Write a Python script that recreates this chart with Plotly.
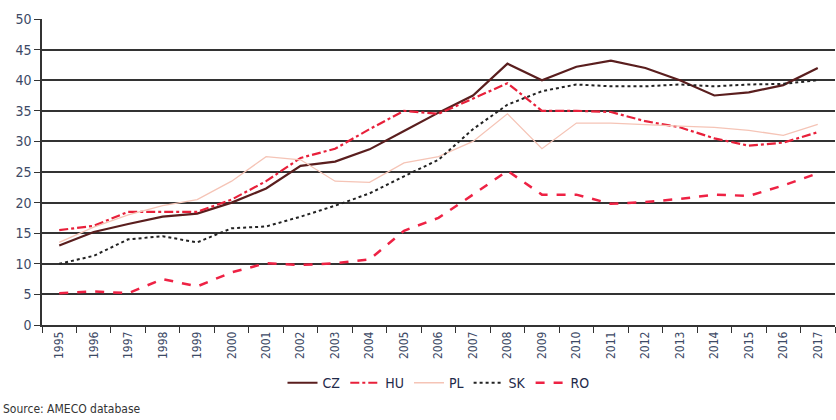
import plotly.graph_objects as go

years = [str(y) for y in range(1995, 2018)]
cz = [13.0, 15.2, 16.5, 17.7, 18.2, 20.0, 22.3, 26.0, 26.7, 28.7, 31.7, 34.7, 37.5, 42.7, 40.0, 42.2, 43.2, 42.0, 40.0, 37.5, 38.0, 39.2, 42.0]
hu = [15.5, 16.2, 18.5, 18.5, 18.5, 20.5, 23.5, 27.3, 28.8, 32.0, 35.0, 34.5, 37.0, 39.5, 35.0, 35.0, 34.8, 33.3, 32.3, 30.5, 29.3, 29.8, 31.5]
pl = [13.5, 16.0, 18.0, 19.5, 20.5, 23.5, 27.5, 27.0, 23.5, 23.3, 26.5, 27.5, 30.0, 34.5, 28.8, 33.0, 33.0, 32.7, 32.5, 32.3, 31.8, 31.0, 32.8]
sk = [10.0, 11.3, 14.0, 14.5, 13.5, 15.8, 16.1, 17.7, 19.5, 21.5, 24.3, 27.0, 32.0, 36.0, 38.2, 39.3, 39.0, 39.0, 39.3, 39.0, 39.3, 39.4, 40.0]
ro = [5.2, 5.5, 5.2, 7.5, 6.3, 8.6, 10.1, 9.8, 10.1, 10.7, 15.4, 17.5, 21.3, 25.2, 21.3, 21.3, 19.8, 20.1, 20.6, 21.3, 21.1, 22.8, 24.8]

series = [
    ("CZ", cz, "#5a1e1e", 2.2, "solid"),
    ("HU", hu, "#e8203a", 2.2, "dashdot"),
    ("PL", pl, "#f5c4b6", 1.3, "solid"),
    ("SK", sk, "#222222", 2.0, "dot"),
    ("RO", ro, "#ee2244", 2.5, "dash"),
]

font_family = "Liberation Sans Narrow, DejaVu Sans Condensed, Arial Narrow, sans-serif"

fig = go.Figure()
for name, vals, color, w, dash in series:
    fig.add_trace(go.Scatter(x=years, y=vals, name=name, mode="lines",
                             line=dict(color=color, width=w, dash=dash)))

fig.update_layout(
    width=836, height=420,
    margin=dict(l=42, r=1, t=19, b=95, autoexpand=False),
    paper_bgcolor="white", plot_bgcolor="white",
    font=dict(family=font_family, color="#3d4a66", size=13),
    showlegend=True,
    legend=dict(orientation="h", x=0.5, xanchor="center", y=-0.19, yanchor="middle",
                font=dict(size=14, color="#1f2a4a", family=font_family),
                itemwidth=30, tracegroupgap=0, bgcolor="rgba(0,0,0,0)"),
    annotations=[dict(text="Source: AMECO database", xref="paper", yref="paper",
                      x=-0.052, y=-0.245, xanchor="left", yanchor="top", showarrow=False,
                      font=dict(size=12, color="#333333", family=font_family))],
)
fig.update_xaxes(type="category", tickson="boundaries", ticks="outside", ticklen=6,
                 range=[-0.5, 22.5], automargin=False,
                 tickcolor="#333", tickangle=-90, showgrid=False, showline=True,
                 linecolor="#333", linewidth=1.5, tickfont=dict(size=12, color="#3d4a66"))
fig.update_yaxes(range=[0, 50], dtick=5, ticks="outside", ticklen=6, tickcolor="#333",
                 automargin=False,
                 showgrid=True, gridcolor="#333333", gridwidth=1.6, showline=True,
                 linecolor="#333", linewidth=1.5, zeroline=False,
                 tickfont=dict(size=14, color="#3d4a66"))

fig.write_html("out.html", config={"displayModeBar": False},
               post_script="document.body.style.margin='0';document.body.style.overflow='hidden';")
